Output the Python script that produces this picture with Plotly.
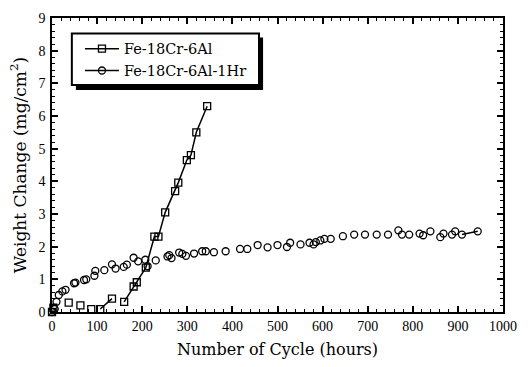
import plotly.graph_objects as go

# Fe-18Cr-6Al (squares)
sq_x = [0, 3, 37, 63, 87, 107, 133, 160, 181, 188, 208, 227, 236, 251, 273, 280, 299, 308, 320, 344]
sq_y = [0.0, 0.13, 0.29, 0.20, 0.09, 0.09, 0.41, 0.31, 0.78, 0.91, 1.36, 2.31, 2.31, 3.05, 3.70, 3.96, 4.65, 4.80, 5.50, 6.30]
# whether a line joins point i to point i+1
sq_connected = [False, False, False, False, False, True, False, True, True, True, True, True, True, True, True, True, True, True, True]

# Fe-18Cr-6Al-1Hr (circles)
ci_x = [0, 6, 10, 15, 23, 30, 49, 52, 71, 76, 94, 96, 116, 133, 141, 159, 166, 181, 191, 207,
        212, 230, 256, 260, 265, 282, 289, 297, 315, 333, 341, 359, 385, 417, 433, 456, 478, 500,
        521, 528, 551, 571, 580, 585, 595, 604, 618, 645, 670, 694, 720, 745, 768, 776, 792, 815,
        823, 839, 861, 868, 887, 894, 909, 944]
ci_y = [0.0, 0.09, 0.31, 0.52, 0.63, 0.68, 0.88, 0.90, 0.98, 1.00, 1.11, 1.26, 1.28, 1.46, 1.33, 1.38, 1.45, 1.66, 1.55, 1.60,
        1.40, 1.58, 1.70, 1.74, 1.65, 1.82, 1.78, 1.72, 1.79, 1.86, 1.86, 1.83, 1.86, 1.93, 1.93, 2.05, 1.98, 2.05,
        1.99, 2.12, 2.07, 2.12, 2.07, 2.14, 2.19, 2.24, 2.24, 2.32, 2.37, 2.37, 2.37, 2.37, 2.50, 2.37, 2.37, 2.40,
        2.35, 2.47, 2.29, 2.40, 2.37, 2.47, 2.37, 2.47]

series_names = ["Fe-18Cr-6Al", "Fe-18Cr-6Al-1Hr"]
x_ticks = [0, 100, 200, 300, 400, 500, 600, 700, 800, 900, 1000]
y_ticks = [0, 1, 2, 3, 4, 5, 6, 7, 8, 9]


def with_gaps(xs, ys, connected):
    ox, oy = [xs[0]], [ys[0]]
    for i in range(1, len(xs)):
        if not connected[i - 1]:
            ox.append(None)
            oy.append(None)
        ox.append(xs[i])
        oy.append(ys[i])
    return ox, oy


TICK_FONT = "Liberation Serif"
TEXT_FONT = "DejaVu Serif"
fig = go.Figure()

sx, sy = with_gaps(sq_x, sq_y, sq_connected)
fig.add_trace(go.Scatter(
    x=sx, y=sy, mode="lines+markers", name=series_names[0],
    line=dict(color="black", width=1.5), connectgaps=False,
    marker=dict(symbol="square-open", size=7, color="black", line=dict(width=1.3)),
    cliponaxis=False,
))

ci_connected = [False] * (len(ci_x) - 2) + [True]
cx, cy = with_gaps(ci_x, ci_y, ci_connected)
fig.add_trace(go.Scatter(
    x=cx, y=cy, mode="lines+markers", name=series_names[1],
    line=dict(color="black", width=1.5), connectgaps=False,
    marker=dict(symbol="circle-open", size=7, color="black", line=dict(width=1.3)),
    cliponaxis=False,
))

axis_common = dict(
    showline=True, linecolor="black", linewidth=1.5, mirror="ticks",
    ticks="inside", tickcolor="black", tickwidth=1.5, ticklen=6,
    showgrid=False, zeroline=False,
    tickfont=dict(family=TICK_FONT, size=14, color="black"),
)

fig.update_xaxes(
    range=[0, 1000], tickvals=x_ticks,
    minor=dict(ticks="inside", ticklen=3, tickcolor="black", dtick=20, tickwidth=1),
    title=dict(text="Number of Cycle (hours)", font=dict(family=TEXT_FONT, size=16, color="black"), standoff=11),
    **axis_common,
)
fig.update_yaxes(
    range=[0, 9], tickvals=y_ticks,
    minor=dict(ticks="inside", ticklen=3, tickcolor="black", dtick=0.2, tickwidth=1),
    title=dict(text="Weight Change (mg/cm<sup>2</sup>)", font=dict(family=TEXT_FONT, size=17, color="black"), standoff=8),
    ticklabelstandoff=2,
    **axis_common,
)

# legend frame: shadow + bordered white box
fig.add_shape(type="rect", xref="paper", yref="paper",
              x0=0.053, x1=0.468, y0=0.755, y1=0.934,
              fillcolor="black", line=dict(width=0), layer="above")
fig.add_shape(type="rect", xref="paper", yref="paper",
              x0=0.044, x1=0.459, y0=0.772, y1=0.947,
              fillcolor="white", line=dict(color="black", width=2), layer="above")

fig.update_layout(
    width=528, height=367,
    margin=dict(l=52, r=23, t=11, b=54),
    paper_bgcolor="white", plot_bgcolor="white",
    font=dict(family=TEXT_FONT, size=14.5, color="black"),
    legend=dict(
        x=0.062, y=0.95, xanchor="left", yanchor="top",
        bgcolor="rgba(0,0,0,0)", borderwidth=0,
        font=dict(family=TEXT_FONT, size=14.5, color="black"),
        tracegroupgap=0, itemwidth=34,
    ),
)

fig.write_html("out.html")
